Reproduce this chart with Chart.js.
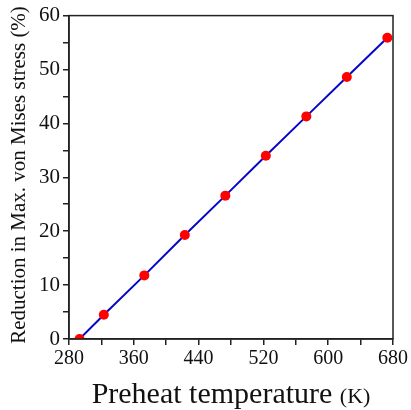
<!DOCTYPE html>
<html>
<head>
<meta charset="utf-8">
<script src="https://cdn.jsdelivr.net/npm/chart.js@4"></script>
<style>
  html, body { margin: 0; padding: 0; background: #fff; }
  #wrap { width: 411px; height: 410px; position: relative; }
</style>
</head>
<body>
<div id="wrap"><canvas id="stressChart"></canvas></div>
<script>
// preheat temperature (K) and reduction of peak von Mises stress (%)
const temperatures = [293, 323, 373, 423, 473, 523, 573, 623, 673];
const reduction = [0, 4.5, 11.8, 19.3, 26.6, 34.0, 41.3, 48.6, 55.9];
const xLabelTicks = [280, 360, 440, 520, 600, 680];
const yLabelTicks = [0, 10, 20, 30, 40, 50, 60];

const serif = "'Liberation Serif', 'DejaVu Serif', serif";

// frame around the plot plus the two axis titles
const framePlugin = {
  id: "frame",
  afterDraw(chart) {
    const { ctx, chartArea: a } = chart;
    ctx.save();
    ctx.strokeStyle = "#222";
    ctx.lineWidth = 1.5;
    ctx.strokeRect(a.left, a.top, a.right - a.left, a.bottom - a.top);

    // x title with smaller unit
    ctx.fillStyle = "#111";
    ctx.textBaseline = "alphabetic";
    ctx.font = "30px " + serif;
    const main = "Preheat temperature ";
    const wMain = ctx.measureText(main).width;
    ctx.font = "22px " + serif;
    const unit = "(K)";
    const wUnit = ctx.measureText(unit).width;
    let x = 231 - (wMain + wUnit) / 2;
    ctx.font = "30px " + serif;
    ctx.textAlign = "left";
    ctx.fillText(main, x, 403);
    ctx.font = "22px " + serif;
    ctx.fillText(unit, x + wMain, 403);

    // y title
    ctx.translate(25, 175);
    ctx.rotate(-Math.PI / 2);
    ctx.textAlign = "center";
    ctx.font = "21px " + serif;
    ctx.fillText("Reduction in Max. von Mises stress (%)", 0, 0);
    ctx.restore();
  },
};

const ctx = document.getElementById("stressChart").getContext("2d");

new Chart(ctx, {
  type: "line",
  data: {
    datasets: [
      {
        data: temperatures.map((t, i) => ({ x: t, y: reduction[i] })),
        borderColor: "#0707c8",
        borderWidth: 2,
        pointBackgroundColor: "#ff0000",
        pointBorderColor: "#ff0000",
        pointBorderWidth: 0,
        pointRadius: 5,
        fill: false,
        tension: 0,
      },
    ],
  },
  options: {
    responsive: true,
    maintainAspectRatio: false,
    animation: false,
    layout: { padding: { left: 0, right: 18, top: 13, bottom: 0 } },
    plugins: { legend: { display: false }, tooltip: { enabled: false } },
    scales: {
      x: {
        type: "linear",
        min: 280,
        max: 680,
        afterFit(scale) {
          scale.height = 71;
        },
        ticks: {
          stepSize: 40,
          autoSkip: false,
          maxRotation: 0,
          color: "#111",
          padding: 2,
          font: { family: serif, size: 20 },
          callback: (v) => (xLabelTicks.includes(v) ? String(v) : ""),
        },
        grid: {
          drawOnChartArea: false,
          color: "#222",
          lineWidth: 1.5,
          tickLength: 6,
        },
        border: { color: "#222", width: 1.5 },
      },
      y: {
        min: 0,
        max: 60,
        afterFit(scale) {
          scale.width = 69;
        },
        ticks: {
          stepSize: 5,
          autoSkip: false,
          color: "#111",
          padding: 3,
          font: { family: serif, size: 21 },
          callback: (v) => (yLabelTicks.includes(v) ? String(v) : ""),
        },
        grid: {
          drawOnChartArea: false,
          color: "#222",
          lineWidth: 1.5,
          tickLength: 6,
        },
        border: { color: "#222", width: 1.5 },
      },
    },
  },
  plugins: [framePlugin],
});
</script>
</body>
</html>
